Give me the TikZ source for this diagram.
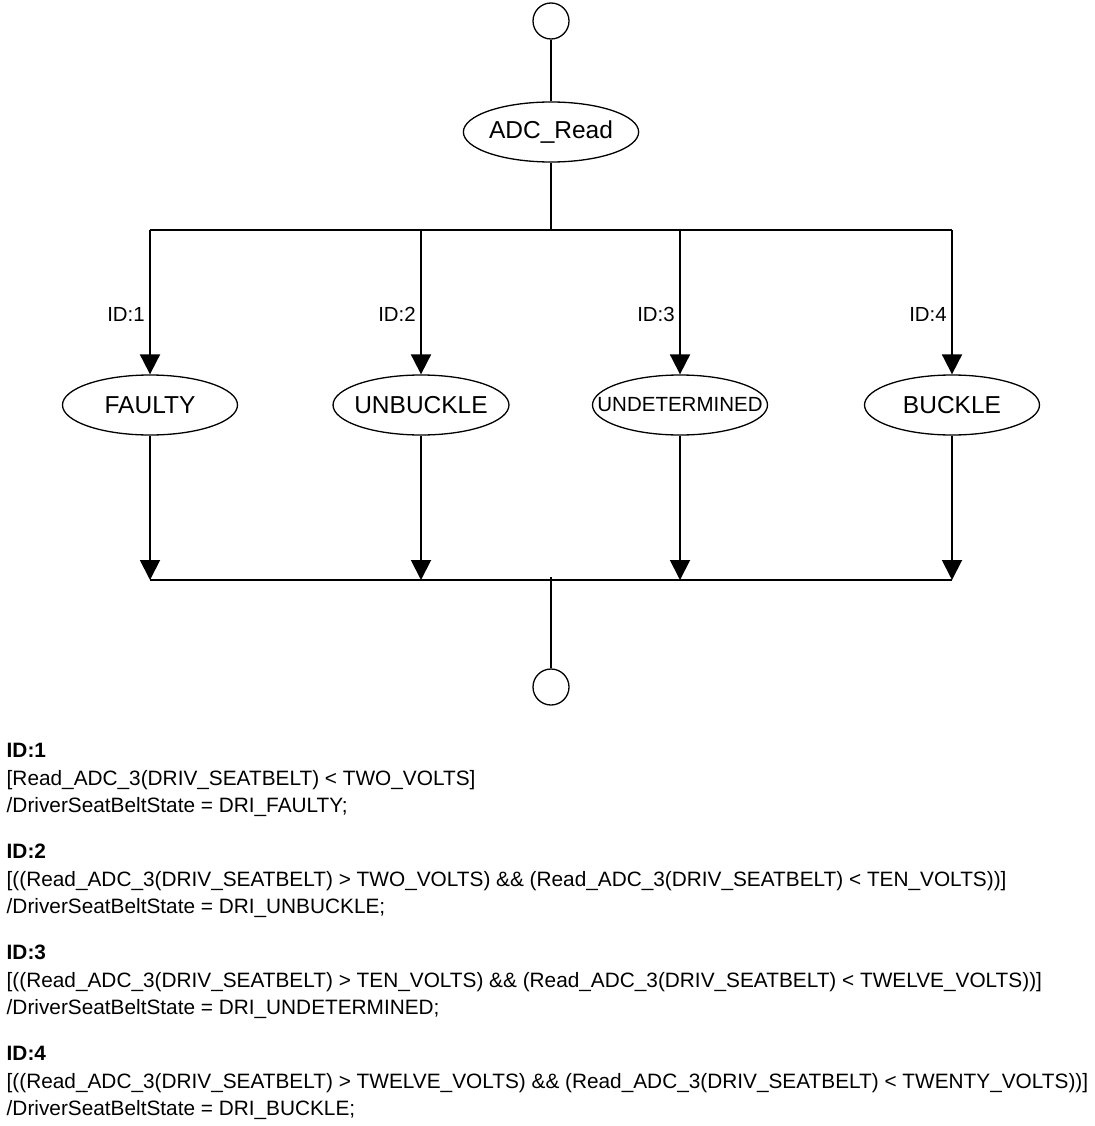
\documentclass[tikz,border=0pt]{standalone}
\usepackage{fontspec}
\setmainfont{Liberation Sans}
\usetikzlibrary{arrows.meta,shapes.geometric}
\tikzset{
  state/.style={draw,ellipse,line width=1.3pt,minimum width=175pt,
    minimum height=60pt,inner sep=0pt,font=\fontsize{24.5}{24.5}\selectfont},
  pseudo/.style={draw,circle,line width=1.3pt,minimum size=36pt,inner sep=0pt},
  flow/.style={line width=1.9pt},
  trans/.style={flow,-{Triangle[length=20pt,width=20pt]}},
  guard/.style={font=\fontsize{20.4}{20.4}\selectfont},
  note/.style={anchor=base west,inner sep=0pt,font=\fontsize{20.8}{20.8}\selectfont},
}
\begin{document}
\begin{tikzpicture}[x=1pt,y=-1pt,line join=round]
  \useasboundingbox (0,0) rectangle (1094,1126);
  % entry, read state and exit
  \node[pseudo] (init) at (551,21) {};
  \node[state] (adc) at (551,132) {ADC\_Read};
  \node[pseudo] (final) at (551,687) {};
  \coordinate (fork) at (551,230);
  \coordinate (join) at (551,580);
  \draw[flow] (init) -- (adc);
  \draw[flow] (adc) -- (fork);
  % the four branches
  \foreach \name/\x/\lbl/\sep [count=\i] in {faulty/150/FAULTY/0pt,unbuckle/421/UNBUCKLE/-4.5pt,
      undet/680/{\fontsize{20.5}{20.5}\selectfont UNDETERMINED}/-22pt,buckle/952/BUCKLE/0pt}{
    \node[state,inner xsep=\sep] (\name) at (\x,405) {\lbl};
    \draw[trans] (\name |- fork) -- (\name) node[guard,pos=0.585,left=1pt] {ID:\i};
    \draw[trans] (\name) -- (\name |- join);
  }
  \draw[flow] (faulty |- fork) -- (buckle |- fork);
  \draw[flow] (faulty |- join) -- (buckle |- join);
  \draw[line width=1.5pt] ([yshift=3pt]join) -- (final);
  % guards and actions
  \foreach \i/\cond/\st in {
      1/{[Read\_ADC\_3(DRIV\_SEATBELT) < TWO\_VOLTS]}/FAULTY,
      2/{[((Read\_ADC\_3(DRIV\_SEATBELT) > TWO\_VOLTS) \&\& (Read\_ADC\_3(DRIV\_SEATBELT) < TEN\_VOLTS))]}/UNBUCKLE,
      3/{[((Read\_ADC\_3(DRIV\_SEATBELT) > TEN\_VOLTS) \&\& (Read\_ADC\_3(DRIV\_SEATBELT) < TWELVE\_VOLTS))]}/UNDETERMINED,
      4/{[((Read\_ADC\_3(DRIV\_SEATBELT) > TWELVE\_VOLTS) \&\& (Read\_ADC\_3(DRIV\_SEATBELT) < TWENTY\_VOLTS))]}/BUCKLE}{
    \pgfmathsetmacro{\y}{757+(\i-1)*101}
    \node[note,font=\fontsize{20.8}{20.8}\selectfont\bfseries] (id\i) at (6.5,\y) {ID:\i};
    \node[note] (cond\i) at (6.5,\y+28) {\cond};
    \node[note] (act\i) at (6.5,\y+55) {/DriverSeatBeltState = DRI\_\st;};
  }
\end{tikzpicture}
\end{document}
